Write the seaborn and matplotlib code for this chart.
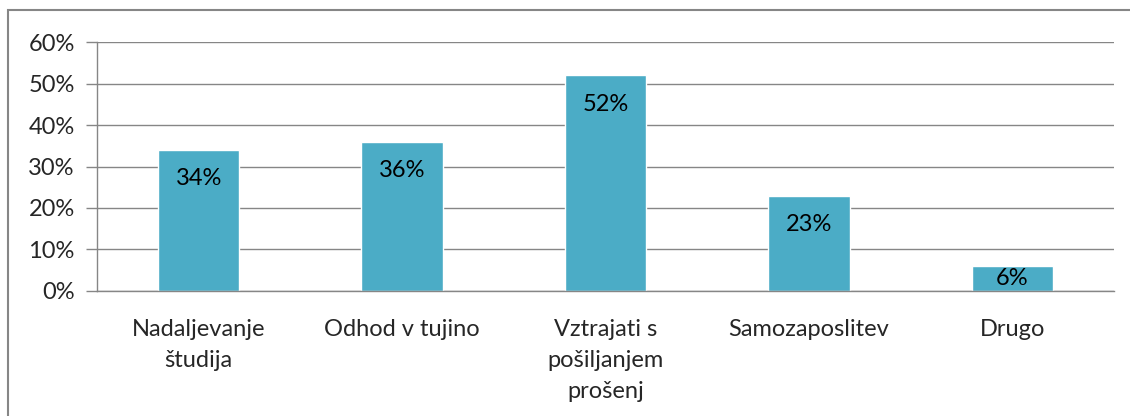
import matplotlib
matplotlib.use('Agg')
import matplotlib.pyplot as plt
import matplotlib.ticker as mticker
import seaborn as sns
import pandas as pd
from matplotlib.patches import Rectangle

categories = ["Nadaljevanje\nštudija", "Odhod v tujino", "Vztrajati s\npošiljanjem\nprošenj",
              "Samozaposlitev", "Drugo"]
values = [34, 36, 52, 23, 6]
yticks = [0, 10, 20, 30, 40, 50, 60]

sns.set_theme(style="white")
plt.rcParams['font.family'] = ['Lato', 'DejaVu Sans']

df = pd.DataFrame({"cat": categories, "val": values})

fig = plt.figure(figsize=(11.3, 4.16), dpi=100)
ax = fig.add_axes([0.0858, 0.3005, 0.9, 0.5985])

sns.barplot(data=df, x="cat", y="val", color="#4BACC6", width=0.4, saturation=1, ax=ax)

ax.set_ylim(0, 60)
ax.set_xlim(-0.5, len(categories) - 0.5)
ax.set_yticks(yticks)
ax.yaxis.set_major_formatter(mticker.FuncFormatter(lambda v, p: f"{v:.0f}%"))
ax.grid(axis='y', color='#868686', linewidth=1)
ax.set_axisbelow(True)
ax.set_xlabel("")
ax.set_ylabel("")

for s in ['top', 'right']:
    ax.spines[s].set_visible(False)
for s in ['left', 'bottom']:
    ax.spines[s].set_color('#868686')
    ax.spines[s].set_linewidth(1)

# x ticks at category boundaries
ax.set_xticks([i - 0.5 for i in range(len(categories) + 1)], minor=True)
ax.tick_params(axis='x', which='minor', length=7, color='#868686', width=1)
ax.tick_params(axis='x', which='major', length=0, pad=20, labelsize=17)
ax.tick_params(axis='y', length=8, color='#868686', width=1, pad=8, labelsize=17, left=True)
ax.set_xticks(range(len(categories)))
ax.set_xticklabels(categories, linespacing=1.6, va='top')

for i, v in enumerate(values):
    yc = max(v - 7, v / 2)
    ax.text(i, yc, f"{v}%", ha='center', va='center', fontsize=17, color='black')

# chart frame (right and bottom edges fall outside the image)
fig.patches.append(Rectangle((8 / 1130, -0.05), 1.0, 1 - 10 / 416 + 0.05,
                             transform=fig.transFigure, fill=False, edgecolor='#868686', linewidth=1.5))

fig.savefig("out.png", dpi=100, facecolor='white')
